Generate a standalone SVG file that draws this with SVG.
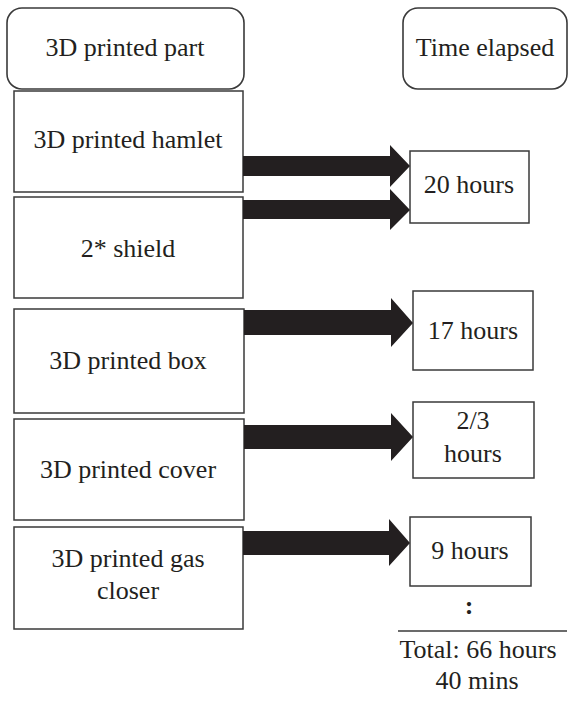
<svg xmlns="http://www.w3.org/2000/svg" width="579" height="701" viewBox="0 0 579 701">
<style>
.box{fill:#fff;stroke:#3a3a3a;stroke-width:1.5}
.hdr{fill:#fff;stroke:#3a3a3a;stroke-width:1.6}
.t{font-family:'Liberation Serif','DejaVu Serif','Times New Roman',Times,serif;font-size:26px;fill:#231f20;text-anchor:middle}
.arr{fill:#231f20}
</style>
<rect width="579" height="701" fill="#fff"/>
<g id="hdr-part"><rect class="hdr" x="7" y="8" width="237" height="81" rx="15"/><text class="t" x="125" y="56">3D printed part</text></g>
<g id="hdr-time"><rect class="hdr" x="403" y="8" width="164" height="81" rx="15"/><text class="t" x="485" y="56">Time elapsed</text></g>
<g id="n-hamlet"><rect class="box" x="14" y="91" width="229" height="101"/><text class="t" x="128" y="148">3D printed hamlet</text></g>
<g id="n-shield"><rect class="box" x="14" y="197" width="229" height="101"/><text class="t" x="128" y="257">2* shield</text></g>
<g id="n-box"><rect class="box" x="14" y="309" width="230" height="104"/><text class="t" x="128" y="369">3D printed box</text></g>
<g id="n-cover"><rect class="box" x="14" y="419" width="230" height="101"/><text class="t" x="128" y="478">3D printed cover</text></g>
<g id="n-gas"><rect class="box" x="14" y="527" width="229" height="102"/><text class="t" x="128" y="567">3D printed gas</text><text class="t" x="128" y="599">closer</text></g>
<g id="t-20"><rect class="box" x="410" y="151" width="119" height="72"/><text class="t" x="469" y="193">20 hours</text></g>
<g id="t-17"><rect class="box" x="413" y="291" width="120" height="79"/><text class="t" x="473" y="339">17 hours</text></g>
<g id="t-23"><rect class="box" x="413" y="402" width="121" height="76"/><text class="t" x="473" y="429">2/3</text><text class="t" x="473" y="462">hours</text></g>
<g id="t-9"><rect class="box" x="410" y="517" width="121" height="69"/><text class="t" x="470" y="559">9 hours</text></g>
<g id="dots"><text class="t" x="469" y="614" font-weight="bold">:</text></g>
<g id="total"><line x1="398" y1="631" x2="567" y2="631" stroke="#3a3a3a" stroke-width="1.5"/><text class="t" x="478" y="658">Total: 66 hours</text><text class="t" x="477" y="689">40 mins</text></g>
<g id="connectors">
<polygon class="arr" points="243,156 390,156 390,145 410,166 390,187 390,176 243,176"/>
<polygon class="arr" points="243,200 390,200 390,189 410,210 390,230 390,219 243,219"/>
<polygon class="arr" points="244,310 391,310 391,298 413,323 391,347 391,335 244,335"/>
<polygon class="arr" points="244,425 391,425 391,413 413,437 391,461 391,449 244,449"/>
<polygon class="arr" points="243,531 389,531 389,519 410,543 389,566 389,555 243,555"/>
</g>
</svg>
